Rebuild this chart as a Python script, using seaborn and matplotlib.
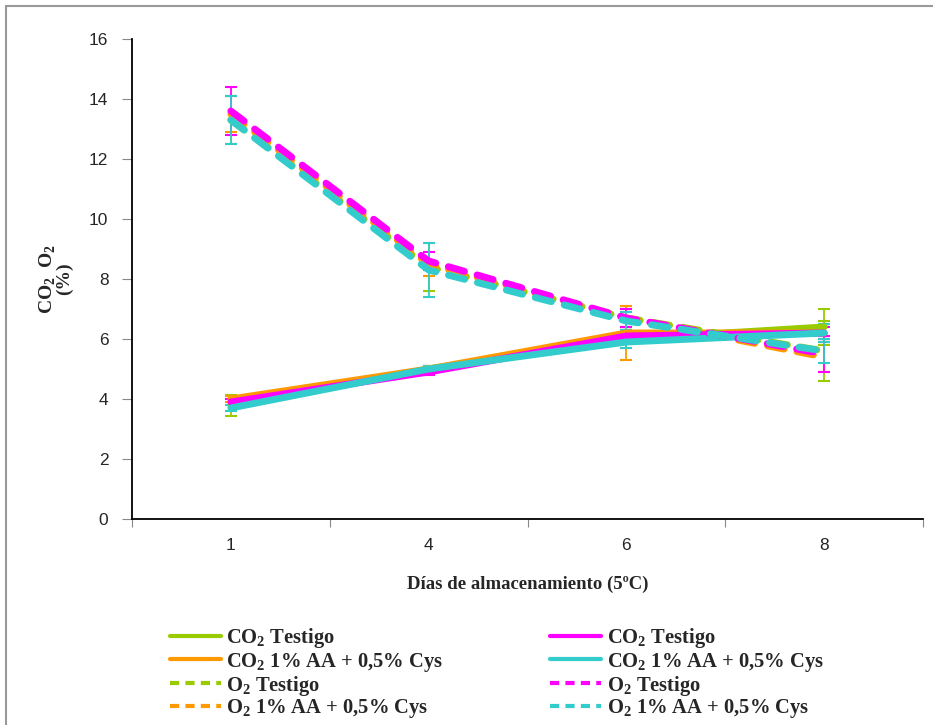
import matplotlib
matplotlib.use("Agg")
import matplotlib.pyplot as plt
import seaborn as sns
import pandas as pd
import numpy as np
from matplotlib.lines import Line2D

sns.set_style("white")
plt.rcParams['font.family'] = ['Liberation Sans', 'DejaVu Sans']
plt.rcParams['mathtext.fontset'] = 'custom'
plt.rcParams['mathtext.rm'] = 'Liberation Serif'
plt.rcParams['mathtext.bf'] = 'Liberation Serif:bold'

days = ["1", "4", "6", "8"]

co2_testigo_a = [3.8, 5.0, 6.0, 6.4]
co2_aa_a = [4.0, 5.0, 6.2, 6.2]
o2_testigo_a = [13.3, 8.4, 6.7, 5.6]
o2_aa_a = [13.5, 8.5, 6.7, 5.4]
co2_testigo_b = [3.9, 4.9, 6.1, 6.2]
co2_aa_b = [3.7, 5.0, 5.9, 6.2]
o2_testigo_b = [13.6, 8.6, 6.7, 5.5]
o2_aa_b = [13.3, 8.3, 6.6, 5.6]

err_co2_testigo_a = [0.35, 0.1, 0.3, 0.6]
err_co2_aa_a = [0.1, 0.1, 0.9, 0.3]
err_o2_testigo_a = [0.8, 0.8, 0.3, 1.0]
err_o2_aa_a = [0.6, 0.4, 0.3, 0.5]
err_co2_testigo_b = [0.1, 0.1, 0.2, 0.2]
err_co2_aa_b = [0.1, 0.1, 0.2, 0.3]
err_o2_testigo_b = [0.8, 0.3, 0.3, 0.6]
err_o2_aa_b = [0.8, 0.9, 0.3, 0.4]

series = [
    (r"CO$_\mathbf{2}$ Testigo", co2_testigo_a, err_co2_testigo_a, "#99CC00", "-"),
    (r"CO$_\mathbf{2}$ 1% AA + 0,5% Cys", co2_aa_a, err_co2_aa_a, "#FF9900", "-"),
    (r"O$_\mathbf{2}$ Testigo", o2_testigo_a, err_o2_testigo_a, "#99CC00", "--"),
    (r"O$_\mathbf{2}$ 1% AA + 0,5% Cys", o2_aa_a, err_o2_aa_a, "#FF9900", "--"),
    (r"CO$_\mathbf{2}$ Testigo", co2_testigo_b, err_co2_testigo_b, "#FF00FF", "-"),
    (r"CO$_\mathbf{2}$ 1% AA + 0,5% Cys", co2_aa_b, err_co2_aa_b, "#33CCCC", "-"),
    (r"O$_\mathbf{2}$ Testigo", o2_testigo_b, err_o2_testigo_b, "#FF00FF", "--"),
    (r"O$_\mathbf{2}$ 1% AA + 0,5% Cys", o2_aa_b, err_o2_aa_b, "#33CCCC", "--"),
]

W, H = 933, 725
fig = plt.figure(figsize=(W / 100, H / 100), dpi=100)
ax = fig.add_axes([132 / W, 1 - 519 / H, (923 - 132) / W, (519 - 39) / H])

pos = np.arange(len(days))
for name, vals, errs, col, ls in series:
    df = pd.DataFrame({"x": pos, "y": vals})
    sns.lineplot(data=df, x="x", y="y", ax=ax, color=col, linewidth=5,
                 linestyle=(0, (2.4, 1.9)) if ls == "--" else "-",
                 dash_capstyle="round", solid_capstyle="round", legend=False)
    ax.errorbar(pos, vals, yerr=errs, fmt="none", ecolor=col, elinewidth=1.3,
                capsize=4, capthick=1.5, zorder=1)

ax.set_xlim(-0.5, 3.5)
ax.set_ylim(0, 16)
ax.set_yticks(range(0, 17, 2))
ax.set_yticklabels([str(v) for v in range(0, 17, 2)], fontsize=12.5)
ax.set_xticks(np.arange(-0.5, 3.6, 1.0))
ax.set_xticklabels([])
ax.set_xticks(pos, minor=True)
ax.set_xticklabels(days, minor=True, fontsize=12.5)
ax.tick_params(axis="x", which="minor", length=0, pad=14)
ax.tick_params(axis="x", which="major", length=6, color="#888888", direction="out")
ax.tick_params(axis="y", length=7, color="#888888", direction="out", pad=10)
ax.tick_params(left=True, bottom=True)
for s in ["top", "right"]:
    ax.spines[s].set_visible(False)
for s in ["left", "bottom"]:
    ax.spines[s].set_color("black")
    ax.spines[s].set_linewidth(1.3)
ax.set_xlabel("Días de almacenamiento (5ºC)", fontsize=13.5, fontweight="bold",
              family="Liberation Serif", labelpad=16)
ax.set_ylabel(r"CO$_\mathbf{2}$  O$_\mathbf{2}$" + "\n(%)", fontsize=14, fontweight="bold",
              family="Liberation Serif", linespacing=0.8)
ax.yaxis.set_label_coords(-0.075, 0.5)
ax.grid(False)

handles = [Line2D([0], [0], color=c, lw=3,
                  linestyle=(0, (2.2, 1.5)) if ls == "--" else "-")
           for _, _, _, c, ls in series]
labels = [s[0] for s in series]
leg = fig.legend(handles, labels, ncol=2, loc="upper left",
                 bbox_to_anchor=(151 / W, 1 - 608 / H), frameon=False,
                 prop={"family": "Liberation Serif", "size": 14.8, "weight": "bold"},
                 handlelength=2.5, handletextpad=0.25, columnspacing=5.2,
                 labelspacing=0.0)

fig.add_artist(Line2D([6 / W, 6 / W], [0, 1 - 6 / H], color="#999999", lw=1.5))
fig.add_artist(Line2D([6 / W, 1], [1 - 6 / H, 1 - 6 / H], color="#999999", lw=1.5))

fig.savefig("out.png", dpi=100)
